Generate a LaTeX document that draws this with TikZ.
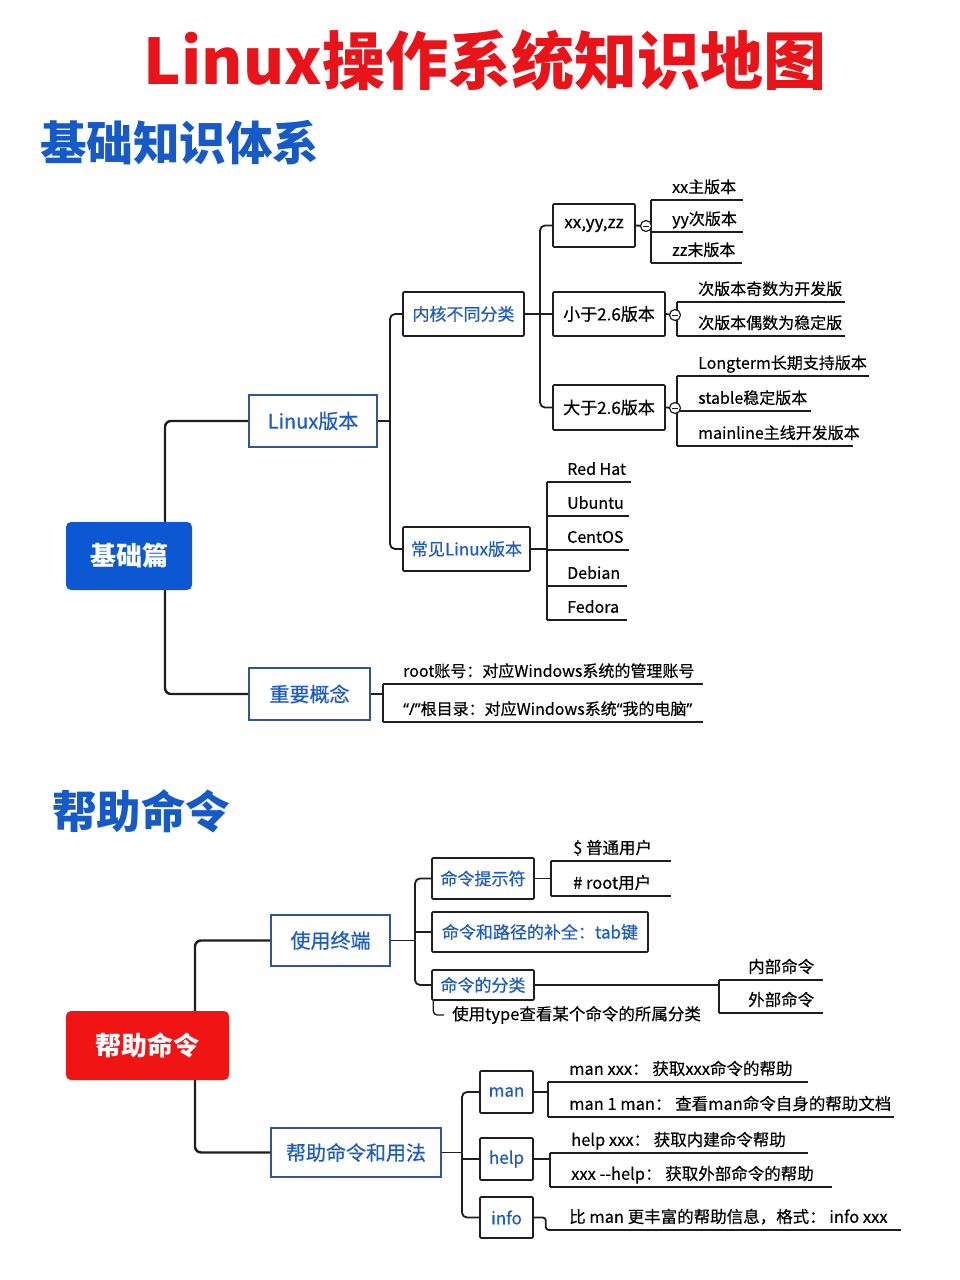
\documentclass[tikz,border=0pt]{standalone}
\usepackage{fontspec}
\setmainfont{Noto Sans CJK SC}
\newfontfamily\medf[FakeBold=0.6]{Noto Sans CJK SC}
\newfontfamily\lightf[FakeBold=0.3]{Noto Sans CJK SC}
\newfontfamily\qf[FakeBold=0.3]{Noto Sans}
\usetikzlibrary{calc}
\definecolor{tred}{RGB}{232,20,26}
\definecolor{tblue}{RGB}{22,90,200}
\definecolor{nblue}{RGB}{30,92,196}
\definecolor{bblue}{RGB}{48,84,160}
\definecolor{fillblue}{RGB}{12,88,210}
\definecolor{fillred}{RGB}{240,20,20}
\definecolor{ln}{RGB}{30,30,30}
\newcommand{\lf}[3]{\makebox[#1pt][l]{\hspace*{#2pt}#3}}
\begin{document}
\begin{tikzpicture}[x=1pt,y=-1pt,
 conn/.style={draw=ln, line width=1.8pt, rounded corners=5pt},
 connA/.style={draw=ln, line width=2.4pt, rounded corners=6pt},
 uline/.style={draw=ln, line width=1.4pt},
 rootbox/.style={rounded corners=5pt, text=white, font=\bfseries\fontsize{26}{30}\selectfont, inner sep=0pt},
 lvA/.style={draw=bblue, line width=1.8pt, fill=white, text=nblue, font=\medf\fontsize{20}{24}\selectfont, inner sep=0pt},
 lvB/.style={draw=ln, line width=1.6pt, fill=white, text=nblue, font=\medf\fontsize{17}{20}\selectfont, inner sep=0pt, rounded corners=1pt},
 lvC/.style={lvB, text=black},
 leaf/.style={anchor=south west, inner xsep=0pt, inner ysep=3pt, text height=12pt, text depth=4pt, font=\lightf\fontsize{16}{19}\selectfont},
 leafB/.style={leaf, font=\lightf\fontsize{16.5}{19}\selectfont},
 fold/.style={circle, draw=ln, line width=1.2pt, fill=white, minimum size=11pt, inner sep=0pt,
   path picture={\draw[ln, line width=1pt] ([xshift=-3pt]path picture bounding box.center) -- ([xshift=3pt]path picture bounding box.center);}},
]
\useasboundingbox[fill=white] (0,0) rectangle (960,1280);

% titles
\node[font=\bfseries\fontsize{63}{74}\selectfont, text=tred] (title) at (485,60) {Linux操作系统知识地图};
\node[font=\bfseries\fontsize{46.5}{54}\selectfont, text=tblue, anchor=west, inner sep=0pt] (sub1) at (40,143) {基础知识体系};
\node[font=\bfseries\fontsize{44.5}{52}\selectfont, text=tblue, anchor=west, inner sep=0pt] (sub2) at (52,811) {帮助命令};

% ---------- section 1 nodes
\node[rootbox, fill=fillblue, minimum width=126pt, minimum height=68pt] (jc) at (129,556) {基础篇};
\node[lvA, minimum width=128pt, minimum height=52pt] (lx) at (313,421) {Linux版本};
\node[lvA, minimum width=121pt, minimum height=52pt] (zy) at (309.5,694) {重要概念};
\node[lvB, minimum width=121pt, minimum height=44pt] (nh) at (463.5,314) {内核不同分类};
\node[lvB, minimum width=127pt, minimum height=44pt] (cj) at (466.5,549) {常见Linux版本};
\node[lvC, minimum width=82pt, minimum height=43pt] (xyz) at (594,225.5) {xx,yy,zz};
\node[lvC, minimum width=112pt, minimum height=44pt] (lt) at (609,314) {小于2.6版本};
\node[lvC, minimum width=112pt, minimum height=45pt] (gt) at (609,407.5) {大于2.6版本};

% leaves
\node[leaf] (x1) at (651,200) {\lf{92}{21}{xx主版本}};
\node[leaf] (x2) at (651,232) {\lf{92}{21}{yy次版本}};
\node[leaf] (x3) at (651,263) {\lf{91}{21}{zz末版本}};
\node[leaf] (s1) at (677,302) {\lf{168}{21}{次版本奇数为开发版}};
\node[leaf] (s2) at (677,336) {\lf{168}{21}{次版本偶数为稳定版}};
\node[leaf] (d1) at (677,376) {\lf{192}{21}{Longterm长期支持版本}};
\node[leaf] (d2) at (677,411) {\lf{134}{21}{stable稳定版本}};
\node[leaf] (d3) at (677,446) {\lf{176}{21}{mainline主线开发版本}};
\node[leaf] (r1) at (547,482) {\lf{84}{20}{Red Hat}};
\node[leaf] (r2) at (547,516) {\lf{82}{20}{Ubuntu}};
\node[leaf] (r3) at (547,550) {\lf{82}{20}{CentOS}};
\node[leaf] (r4) at (547,586) {\lf{80}{20}{Debian}};
\node[leaf] (r5) at (547,620) {\lf{80}{20}{Fedora}};
\node[leaf] (i1) at (383,684) {\lf{320}{20}{root账号：对应Windows系统的管理账号}};
\node[leaf] (i2) at (383,722) {\lf{320}{20}{{\qf “/”}根目录：对应Windows系统{\qf “}我的电脑{\qf ”}}};

% connectors section 1
\draw[connA] ([xshift=36pt]jc.north) |- (lx.west);
\draw[connA] ([xshift=36pt]jc.south) |- (zy.west);
\coordinate (j1) at (390,421);
\draw[conn] (lx.east) -- (j1);
\draw[conn] (nh.west) -| (j1);
\draw[conn] (cj.west) -| (j1);
\coordinate (j2) at (540,314);
\draw[conn] (nh.east) -- (j2);
\draw[conn] (xyz.west) -| (j2);
\draw[conn] (lt.west) -- (j2);
\draw[conn] (gt.west) -| (j2);

\coordinate (f1c) at (646,226);
\coordinate (f2c) at (675,315);
\coordinate (f3c) at (675,408);
\draw[conn] (xyz.east) -- (f1c) -- (f1c -| x1.south west);
\draw[conn] (lt.east) -- (f2c) -- (f2c -| s1.south west);
\draw[conn] (gt.east) -- (f3c) -- (f3c -| d1.south west);
\draw[uline] (x1.south west) -- (x3.south west);
\foreach \n in {x1,x2,x3,s1,s2,d1,d2,d3,r1,r2,r3,r4,r5,i1,i2} \draw[uline] (\n.south west) -- (\n.south east);
\draw[uline] (s1.south west) -- (s2.south west);
\draw[uline] (d1.south west) -- (d3.south west);
\draw[uline] (r1.south west) -- (r5.south west);
\draw[conn] (cj.east) -- (cj.east -| r1.south west);
\draw[uline] (i1.south west) -- (i2.south west);
\draw[conn] (zy.east) -- (zy.east -| i1.south west);
\node[fold] (f1) at (f1c) {};
\node[fold] (f2) at (f2c) {};
\node[fold] (f3) at (f3c) {};

% ---------- section 2 nodes
\node[rootbox, fill=fillred, minimum width=163pt, minimum height=69pt] (bz) at (147.5,1045.5) {帮助命令};
\node[lvA, minimum width=119pt, minimum height=51pt] (zd) at (330.5,940.5) {使用终端};
\node[lvA, minimum width=170pt, minimum height=49pt] (yf) at (356,1152.5) {帮助命令和用法};
\node[lvB, minimum width=102pt, minimum height=41pt] (ts) at (483,878.5) {命令提示符};
\node[lvB, minimum width=216pt, minimum height=40pt] (bq) at (540,932) {命令和路径的补全：tab键};
\node[lvB, minimum width=102pt, minimum height=30pt] (fl) at (483,985) {命令的分类};
\node[lvB, minimum width=53pt, minimum height=42pt] (man) at (506.5,1092) {man};
\node[lvB, minimum width=53pt, minimum height=42pt] (help) at (506.5,1159) {help};
\node[lvB, minimum width=53pt, minimum height=41pt] (info) at (506.5,1217.5) {info};
\node[font=\lightf\fontsize{16.5}{19}\selectfont, anchor=west, inner sep=0pt] (note) at (452,1015) {使用type查看某个命令的所属分类};

\node[leafB] (p1) at (551,861) {\lf{120}{22}{\$ 普通用户}};
\node[leafB] (p2) at (551,896) {\lf{120}{22}{\# root用户}};
\node[leafB] (k1) at (719,980) {\lf{104}{29}{内部命令}};
\node[leafB] (k2) at (719,1013) {\lf{104}{29}{外部命令}};
\node[leafB] (m1) at (548,1082) {\lf{260}{21}{man xxx： 获取xxx命令的帮助}};
\node[leafB] (m2) at (548,1117) {\lf{346}{21}{man 1 man： 查看man命令自身的帮助文档}};
\node[leafB] (h1) at (550,1153) {\lf{258}{21}{help xxx： 获取内建命令帮助}};
\node[leafB] (h2) at (550,1187) {\lf{282}{21}{xxx -\kern0pt-help： 获取外部命令的帮助}};
\node[leafB] (g1) at (550,1230) {\lf{351}{19}{比 man 更丰富的帮助信息，格式： info xxx}};

% connectors section 2
\draw[connA] ([xshift=47.5pt]bz.north) |- (zd.west);
\draw[connA] ([xshift=47.5pt]bz.south) |- (yf.west);
\coordinate (j3) at (415,940.5);
\draw[conn] (zd.east) -- (j3);
\draw[conn] (ts.west) -| (j3);
\draw[conn] (bq.west) -- (bq.west -| j3);
\draw[conn] (fl.west) -| (j3);
\coordinate (j4) at (462,1152.5);
\draw[conn] (yf.east) -- (j4);
\draw[conn] (man.west) -| (j4);
\draw[conn] (help.west) -- (help.west -| j4);
\draw[conn] (info.west) -| (j4);

\draw[conn] (ts.east) -- (ts.east -| p1.south west);
\draw[uline] (p1.south west) -- (p2.south west);
\draw[conn] (fl.east) -- (fl.east -| k1.south west);
\draw[uline] (k1.south west) -- (k2.south west);
\draw[uline, rounded corners=4pt] ([xshift=2pt]fl.south west) |- ([xshift=-8pt]note.west);
\draw[conn] (man.east) -- (man.east -| m1.south west);
\draw[uline] (m1.south west) -- (m2.south west);
\draw[conn] (help.east) -- (help.east -| h1.south west);
\draw[uline] (h1.south west) -- (h2.south west);
\draw[conn, rounded corners=3pt] (info.east) -- ([xshift=12pt]info.east) |- (g1.south west);
\foreach \n in {p1,p2,k1,k2,m1,m2,h1,h2,g1} \draw[uline] (\n.south west) -- (\n.south east);
\end{tikzpicture}
\end{document}
